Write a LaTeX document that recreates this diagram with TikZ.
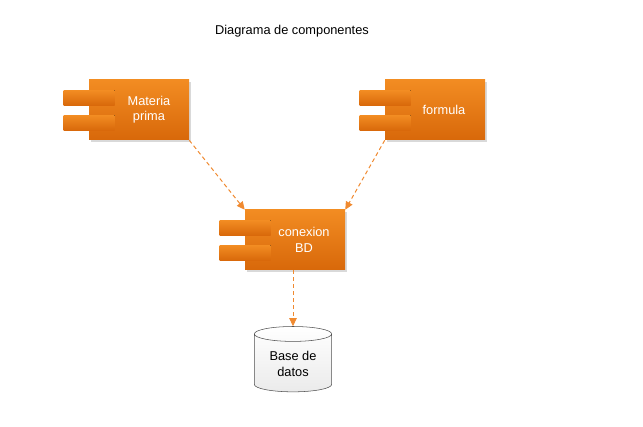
\documentclass[tikz,border=0pt]{standalone}
\usepackage{fontspec}
\setmainfont{Liberation Sans}
\usetikzlibrary{
  calc,%
  shapes.geometric,%
  shadows,%
  arrows.meta,%
  positioning
}
\definecolor{comptop}{HTML}{F28C22}
\definecolor{compbot}{HTML}{D8680A}
\definecolor{linkorange}{HTML}{F08A30}
\definecolor{dbline}{HTML}{505050}
\tikzset{>={Triangle[length=6pt, width=5.5pt]}}
\tikzset{font=\fontsize{9.6}{11.5}\selectfont}
\tikzset{compbox/.style={rectangle, minimum width=75pt, minimum height=45pt,
    top color=comptop, bottom color=compbot, draw=none,
    drop shadow={shadow xshift=1.8pt, shadow yshift=-1.8pt, fill=black!15, opacity=1}},
  comptext/.style={text=white, align=center, inner sep=1pt},
  comptab/.style={top color=comptop, bottom color=compbot, draw=none},
  dblink/.style={->, dash pattern=on 3pt off 2.25pt, linkorange, line width=0.75pt}}

\begin{document}
\begin{tikzpicture}[x=0.75pt, y=-0.75pt]
  \useasboundingbox (0,0) rectangle (643,427);
  \node (title) at (292,31) {Diagrama de componentes};
  % components
  \node[compbox] (mp) at (139,110) {};
  \node[compbox] (form) at (435,110) {};
  \node[compbox] (con) at (295,240) {};
  \foreach \c in {mp, form, con} {
    \fill[comptab] ($(\c.west)+(-25,-19.5)$) rectangle ++(51,15);
    \fill[comptab] ($(\c.west)+(-25,5.5)$) rectangle ++(51,15);
  }
  \node[comptext] (mptext) at ($(mp.center)+(10,0)$) {Materia\\prima};
  \node[comptext] (formtext) at ($(form.center)+(9,0)$) {formula};
  \node[comptext] (context) at ($(con.center)+(9,0)$) {conexion\\BD};
  % database
  \node[cylinder, shape border rotate=90, aspect=0.3, draw=dbline,
    minimum width=58pt, minimum height=49pt, top color=white, bottom color=black!8,
    align=center, inner sep=1pt] (bd) at (293,364) {Base de\\datos};
  % links
  \draw[dblink] (mp.south east) -- (con.north west);
  \draw[dblink] (form.south west) -- (con.north east);
  \draw[dblink] (bd.north |- con.south) -- (bd.north);
\end{tikzpicture}
\end{document}
